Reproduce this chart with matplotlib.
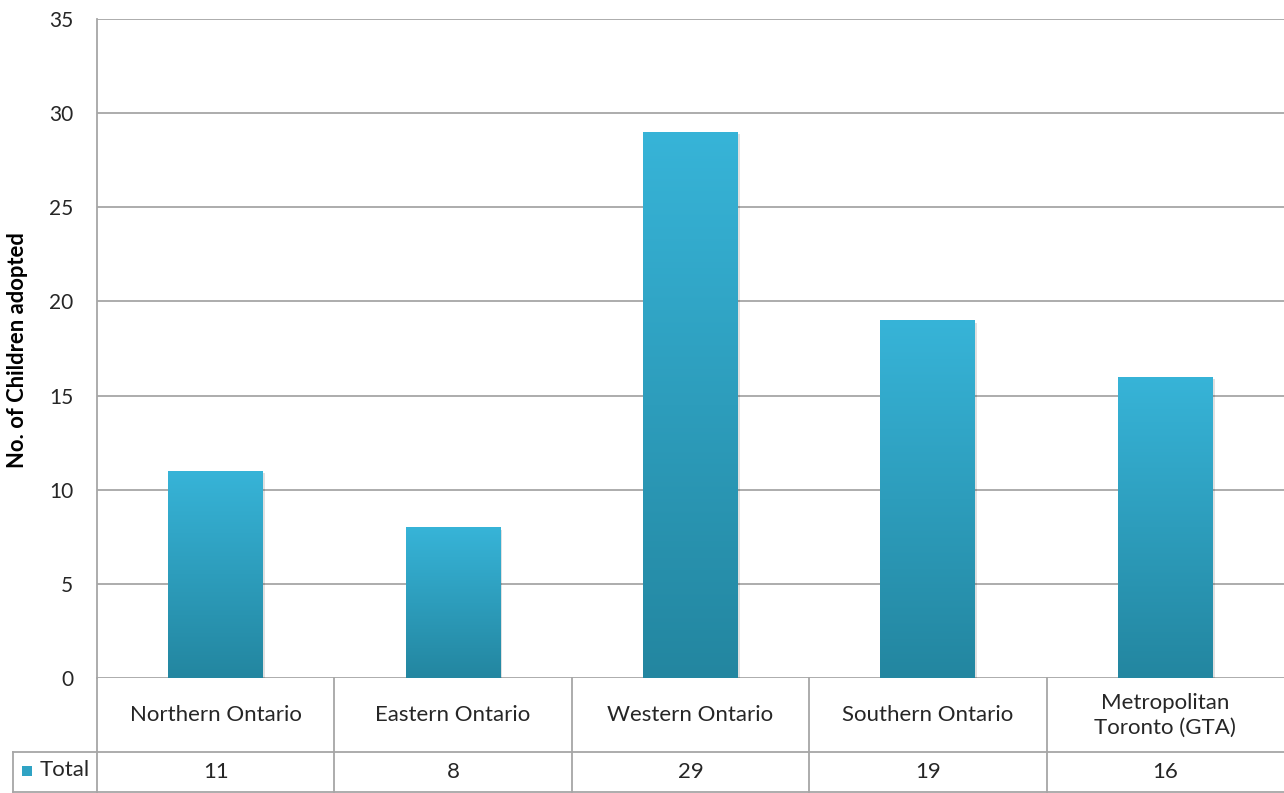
import matplotlib
matplotlib.use("Agg")
import matplotlib.pyplot as plt
import numpy as np
from matplotlib.transforms import blended_transform_factory
from matplotlib.lines import Line2D
from matplotlib.patches import Rectangle
from matplotlib.colors import LinearSegmentedColormap

categories = ["Northern Ontario", "Eastern Ontario", "Western Ontario",
              "Southern Ontario", "Metropolitan\nToronto (GTA)"]
values = [11, 8, 29, 19, 16]
series_name = "Total"
y_ticks = [0, 5, 10, 15, 20, 25, 30, 35]
y_label = "No. of Children adopted"

plt.rcParams['font.family'] = ['Lato', 'DejaVu Sans']

W, H = 1284, 793
fig = plt.figure(figsize=(W / 100, H / 100), dpi=100)
L, R, T, B = 97, 1284, 19, 678
ax = fig.add_axes([L / W, 1 - B / H, (R - L) / W, (B - T) / H])

n = len(categories)
x = np.arange(n)
ax.set_xlim(-0.5, n - 0.5)
ax.set_ylim(0, 35)
ax.set_yticks(y_ticks)
ax.set_yticklabels([str(t) for t in y_ticks], fontsize=15, color="#262626")
ax.tick_params(axis='y', length=0, pad=17)
ax.set_xticks([])
for s in ["top", "right", "bottom"]:
    ax.spines[s].set_visible(False)
ax.spines["left"].set_color("#a6a6a6")
ax.spines["left"].set_linewidth(1.3)
ax.yaxis.grid(True, color="#a6a6a6", linewidth=1.3)
ax.set_axisbelow(True)

cmap = LinearSegmentedColormap.from_list("g", ["#2386a0", "#37b4d8"])
grad = np.linspace(0, 1, 256).reshape(-1, 1)
bars = ax.bar(x, values, width=0.4, color="none", zorder=3)
for b in bars:
    x0, y0, w, h = b.get_x(), b.get_y(), b.get_width(), b.get_height()
    sh = Rectangle((x0 + 0.008, y0 - 0.12), w, h, facecolor="#000000",
                   alpha=0.12, edgecolor="none", zorder=2)
    ax.add_patch(sh)
    im = ax.imshow(grad, cmap=cmap, origin="lower", aspect="auto",
                   extent=[x0, x0 + w, y0, y0 + h], zorder=3,
                   interpolation="bicubic")
    im.set_clip_path(b)
ax.set_xlim(-0.5, n - 0.5)
ax.set_ylim(0, 35)

fig.text(18 / W, 1 - 350 / H, y_label, rotation=90, ha="center", va="center",
         fontsize=15.8, fontweight="bold", color="#000000")

tr = blended_transform_factory(ax.transData, ax.transAxes)
ph = B - T
r1 = -(752 - B) / ph
r2 = -(792 - B) / ph
lc = "#a6a6a6"
lw = 1.3
ax.add_line(Line2D([-0.5, n - 0.5], [r1, r1], transform=tr, color=lc, lw=lw, clip_on=False))
ax.add_line(Line2D([-0.5, n - 0.5], [r2, r2], transform=tr, color=lc, lw=lw, clip_on=False))
for i in range(n):
    ax.add_line(Line2D([i - 0.5, i - 0.5], [0, r2], transform=tr, color=lc, lw=lw, clip_on=False))
lt = blended_transform_factory(fig.transFigure, ax.transAxes)
ax.add_line(Line2D([13 / W, L / W], [r1, r1], transform=lt, color=lc, lw=lw, clip_on=False))
ax.add_line(Line2D([13 / W, L / W], [r2, r2], transform=lt, color=lc, lw=lw, clip_on=False))
ax.add_line(Line2D([13 / W, 13 / W], [r1, r2], transform=lt, color=lc, lw=lw, clip_on=False))
fig.add_artist(Rectangle((22 / W, 1 - 776 / H), 10 / W, 10 / H,
                         transform=fig.transFigure, facecolor="#2fa3c4", edgecolor="none"))
fig.text(40 / W, 1 - 770 / H, series_name, ha="left", va="center",
         fontsize=16, color="#262626")

for i, (c, v) in enumerate(zip(categories, values)):
    ax.text(i, r1 / 2, c, transform=tr, ha="center", va="center",
            fontsize=16, color="#262626", linespacing=1.3)
    ax.text(i, (r1 + r2) / 2, str(v), transform=tr, ha="center", va="center",
            fontsize=16, color="#262626")

fig.savefig("out.png", dpi=100, facecolor="white")
